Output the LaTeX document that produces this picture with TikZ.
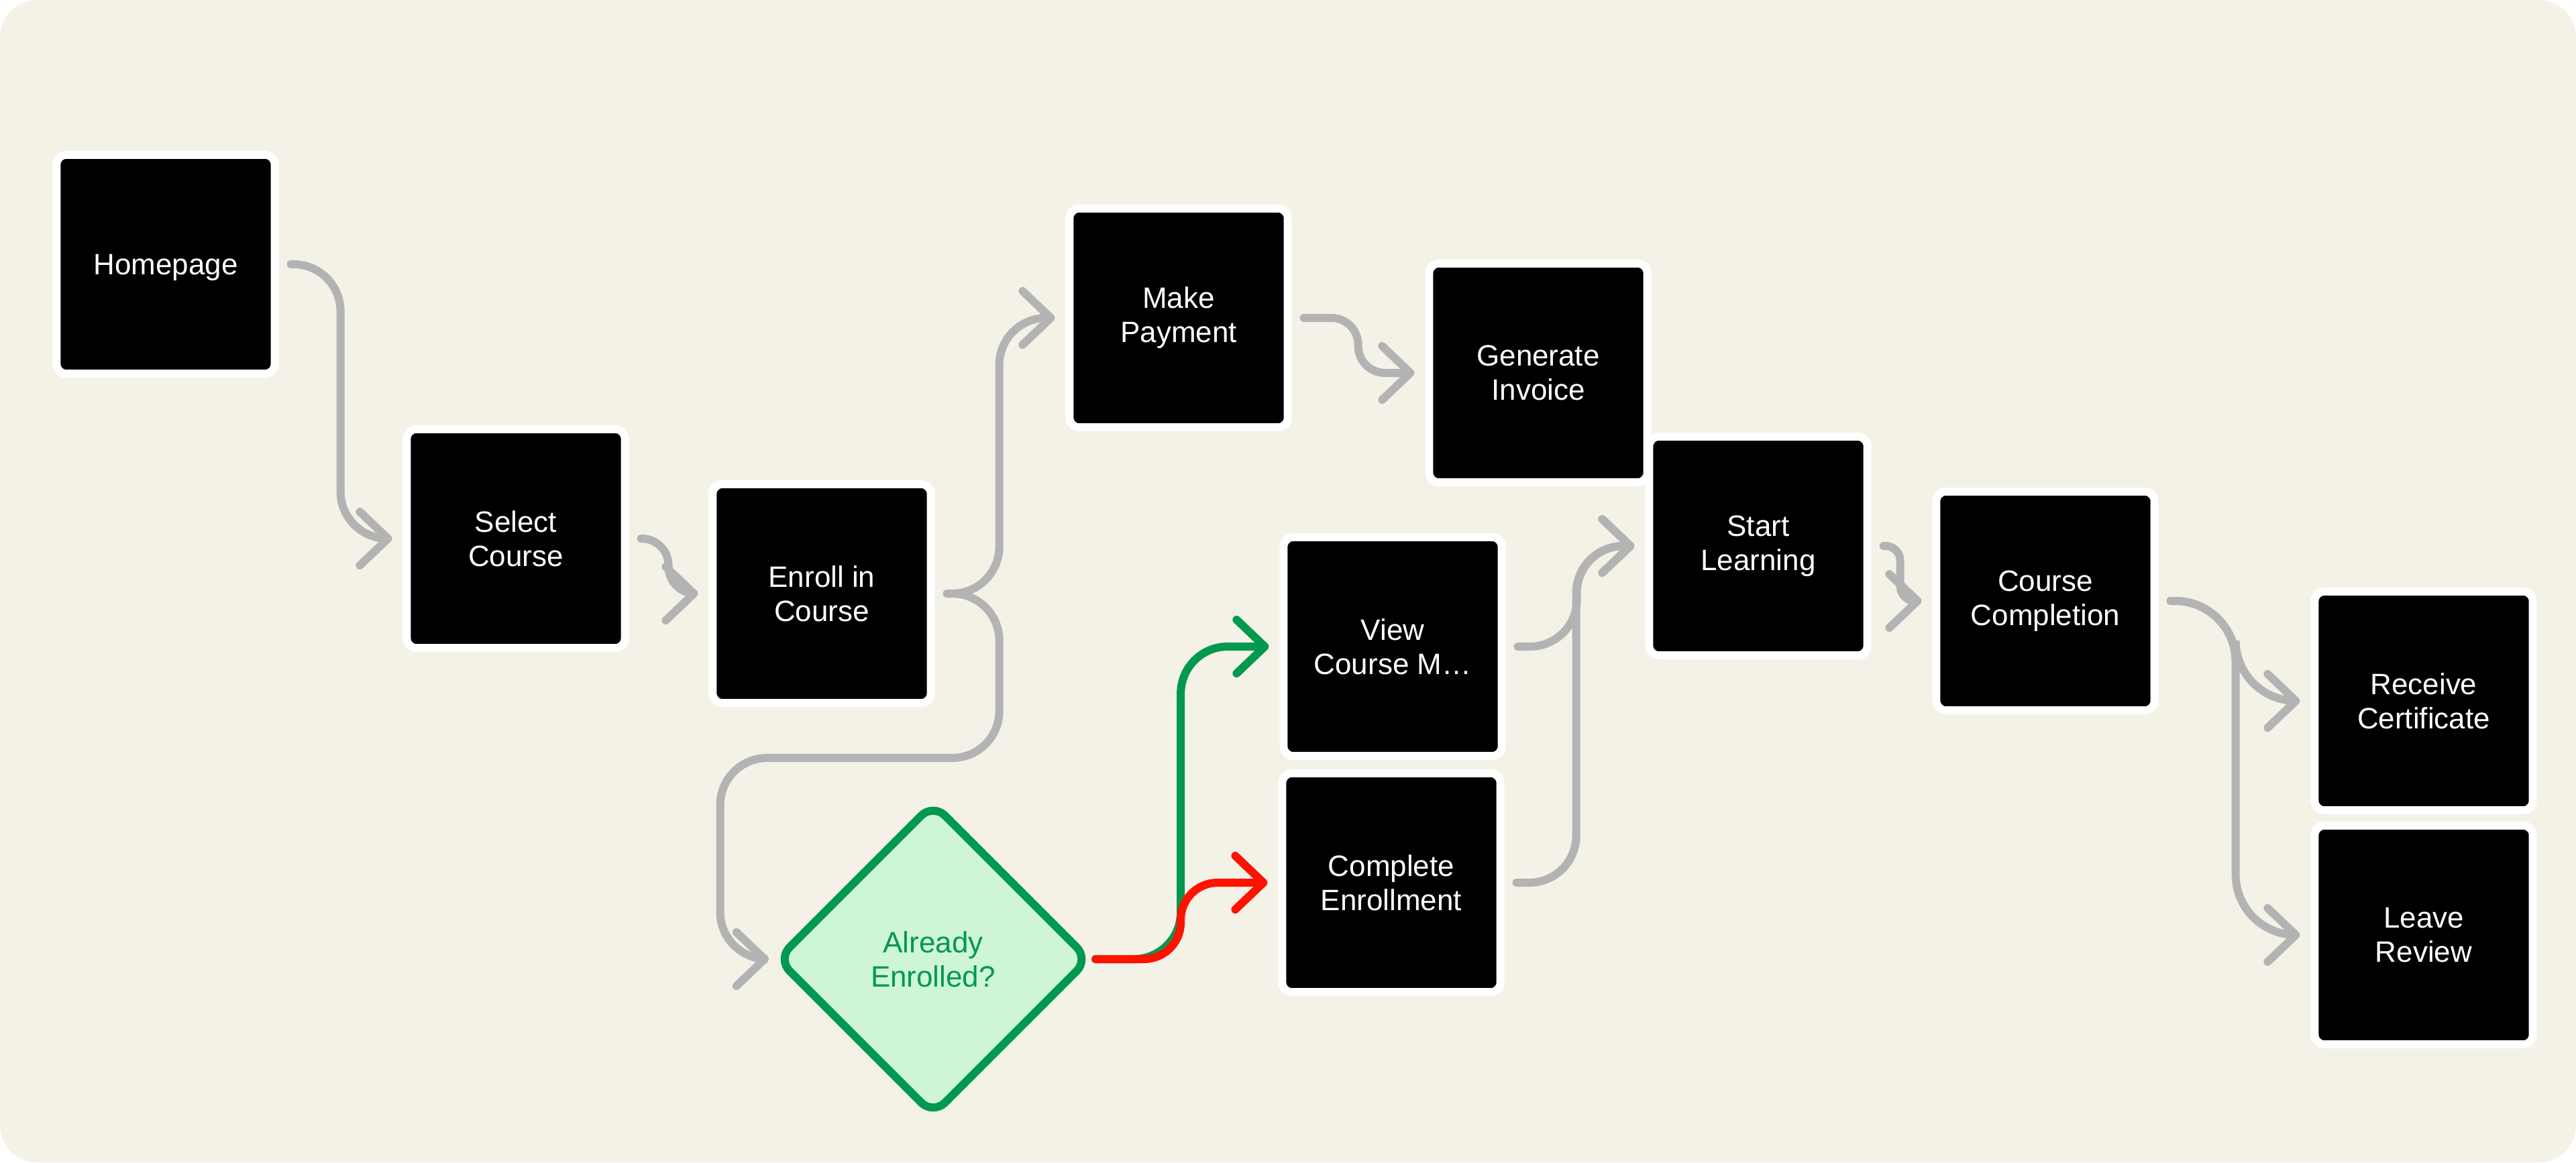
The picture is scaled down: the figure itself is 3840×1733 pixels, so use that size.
\documentclass[tikz,border=0pt]{standalone}
\usepackage{fontspec}
\setmainfont{Liberation Sans}
\usetikzlibrary{arrows.meta,shapes.geometric}

\definecolor{paper}{HTML}{F4F1E7}
\definecolor{wire}{HTML}{B3B3B3}
\definecolor{okgreen}{HTML}{00994F}
\definecolor{okfill}{HTML}{CEF6D6}
\definecolor{nored}{HTML}{FF1200}

\begin{document}
\begin{tikzpicture}[
    x=0.01cm, y=-0.01cm,
    >={Straight Barb[length=0.42cm, width=0.8cm, round]},
    stepbox/.style={
        draw=white, fill=black,
        line width=0.12cm,
        rounded corners=0.14cm,
        minimum width=3.25cm,
        minimum height=3.26cm,
        text=white, align=center,
        font=\fontsize{12.5}{14.5}\selectfont
    },
    choice/.style={
        diamond, aspect=1,
        draw=okgreen, fill=okfill,
        line width=0.12cm,
        rounded corners=0.25cm,
        minimum width=4.68cm,
        minimum height=4.68cm,
        text=okgreen, align=center,
        font=\fontsize{12.5}{14.5}\selectfont
    },
    flow/.style={
        ->, draw=wire,
        line width=0.12cm,
        line cap=round,
        rounded corners=0.7cm,
        shorten <=0.18cm,
        shorten >=0.16cm
    }
]

    \useasboundingbox (0,0) rectangle (3840,1733);
    \fill[white] (0,0) rectangle (3840,1733);
    \fill[paper, rounded corners=0.55cm] (0,0) rectangle (3840,1733);

    \node[stepbox, text depth=0pt] (home) at (247,394) {Homepage};
    \node[stepbox] (sel)   at (769,803)   {Select\\Course};
    \node[stepbox] (enr)   at (1225,885)  {Enroll in\\Course};
    \node[stepbox] (pay)   at (1757,474)  {Make\\Payment};
    \node[stepbox] (inv)   at (2293,556)  {Generate\\Invoice};
    \node[stepbox] (view)  at (2076,964)  {View\\Course M…};
    \node[stepbox] (comp)  at (2074,1316) {Complete\\Enrollment};
    \node[stepbox] (learn) at (2621,814)  {Start\\Learning};
    \node[stepbox] (done)  at (3049,896)  {Course\\Completion};
    \node[stepbox] (cert)  at (3613,1045) {Receive\\Certificate};
    \node[stepbox] (rev)   at (3613,1394) {Leave\\Review};

    \node[choice] (dec) at (1391,1430) {Already\\Enrolled?};

    \draw[flow] (home.east) -- ++(92,0) |- (sel.west);
    \draw[flow, rounded corners=0.4cm] (sel.east) -- ++(59,0) |- (enr.west);
    \draw[flow] (enr.east) -- ++(96,0) |- (pay.west);
    \draw[flow, shorten >=0.05cm] (enr.east) -- ++(96,0) -- ++(0,245)
        -- ++(-416,0) |- (dec.west);
    \draw[flow, rounded corners=0.4cm] (pay.east) -- ++(99,0) |- (inv.west);

    \draw[flow, draw=okgreen, shorten <=0.02cm] (dec.east) -- ++(129,0) |- (view.west);
    \draw[flow, draw=nored, shorten <=0.02cm, rounded corners=0.55cm]
        (dec.east) -- ++(129,0) |- (comp.west);

    \draw[flow] (view.east) -- ++(106,0) |- (learn.west);
    \draw[flow] (comp.east) -- ++(107,0) |- (learn.west);
    \draw[flow, rounded corners=0.22cm] (learn.east) -- ++(43,0) |- (done.west);
    \draw[flow, rounded corners=0.9cm] (done.east) -- ++(115,0) |- (cert.west);
    \draw[flow, rounded corners=0.9cm] (done.east) -- ++(115,0) |- (rev.west);

\end{tikzpicture}
\end{document}
